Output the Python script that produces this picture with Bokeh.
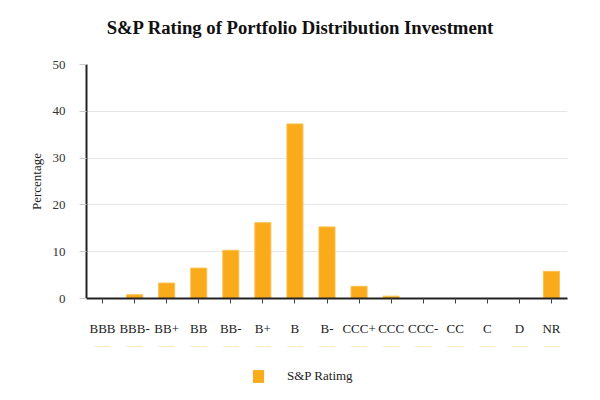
from bokeh.plotting import figure
from bokeh.models import (Legend, LegendItem, ColumnDataSource, FixedTicker,
                          Label, Range1d, FactorRange)
from bokeh.layouts import column
from bokeh.embed import file_html
from bokeh.resources import INLINE

ratings = ["BBB", "BBB-", "BB+", "BB", "BB-", "B+", "B", "B-",
           "CCC+", "CCC", "CCC-", "CC", "C", "D", "NR"]
percentages = [0, 0.8, 3.3, 6.5, 10.3, 16.2, 37.3, 15.3,
               2.6, 0.5, 0, 0, 0, 0, 5.8]
y_ticks = [0, 10, 20, 30, 40, 50]
series_name = "S&P Ratimg"
title_text = "S&P Rating of Portfolio Distribution Investment"

FONT = "Liberation Serif"
BAR = "#f9ab1c"
EDGE = "#fbc04d"
W = 584
FRAME_LEFT = 86

source = ColumnDataSource(dict(rating=ratings, pct=percentages))


def blank(height):
    f = figure(width=W, height=height, output_backend="svg",
               toolbar_location=None, x_axis_location=None,
               y_axis_location=None, x_range=FactorRange(factors=ratings),
               y_range=Range1d(-100, -99), min_border=0,
               border_fill_color="white", background_fill_color="white")
    f.outline_line_color = None
    f.xgrid.visible = False
    f.ygrid.visible = False
    return f


# ---- title strip (frame is aligned with the main chart's frame) ----
p0 = blank(44)
p0.add_layout(Label(x=300 - FRAME_LEFT, y=17, x_units="screen",
                    y_units="screen", text=title_text, text_font=FONT,
                    text_font_size="18.7px", text_font_style="bold",
                    text_align="center", text_baseline="middle",
                    text_color="#111111"))

# ---- main chart ----
p = figure(x_range=ratings, y_range=(0, 50),
           frame_width=481, frame_height=234,
           output_backend="svg", toolbar_location=None,
           min_border_left=FRAME_LEFT, min_border_right=17,
           min_border_top=20, min_border_bottom=48,
           background_fill_color="white", border_fill_color="white")
p.outline_line_color = None

r = p.vbar(x="rating", top="pct", width=0.5, source=source,
           fill_color=BAR, line_color=EDGE, line_width=1)

xa = p.xaxis[0]
xa.axis_line_color = "#222222"
xa.axis_line_width = 2
xa.major_tick_line_color = "#444444"
xa.major_tick_out = 5
xa.major_tick_in = 0
xa.minor_tick_line_color = None
xa.major_label_text_font = FONT
xa.major_label_text_font_size = "13px"
xa.major_label_text_color = "#222222"
xa.major_label_standoff = 17

ya = p.yaxis[0]
ya.ticker = FixedTicker(ticks=y_ticks)
ya.axis_line_color = "#222222"
ya.axis_line_width = 2
ya.major_tick_line_color = "#cccccc"
ya.major_tick_out = 7
ya.major_tick_in = 0
ya.minor_tick_line_color = None
ya.major_label_text_font = FONT
ya.major_label_text_font_size = "13px"
ya.major_label_text_color = "#333333"
ya.major_label_standoff = 14
ya.axis_label = "Percentage"
ya.axis_label_text_font = FONT
ya.axis_label_text_font_size = "13px"
ya.axis_label_text_font_style = "normal"
ya.axis_label_text_color = "#222222"
ya.axis_label_standoff = 6

p.xgrid.grid_line_color = None
p.ygrid.grid_line_color = "#e6e6e6"
p.ygrid.grid_line_width = 1
p.ygrid.ticker = FixedTicker(ticks=y_ticks)

# ---- legend strip (same data, drawn outside its visible range) ----
p2 = blank(38)
lr = p2.vbar(x="rating", top="pct", width=0.5, source=source,
             fill_color=BAR, line_color=None)
legend = Legend(items=[LegendItem(label=series_name, renderers=[lr])],
                location=(251 - FRAME_LEFT, 0), orientation="horizontal",
                glyph_width=14, glyph_height=16, label_standoff=22,
                label_height=16,
                label_text_font=FONT, label_text_font_size="13px",
                label_text_color="#222222",
                border_line_color=None, background_fill_alpha=0,
                margin=0, padding=0)
p2.add_layout(legend, "center")

layout = column(p0, p, p2, spacing=0)

open("out.html", "w").write(file_html(layout, INLINE))
